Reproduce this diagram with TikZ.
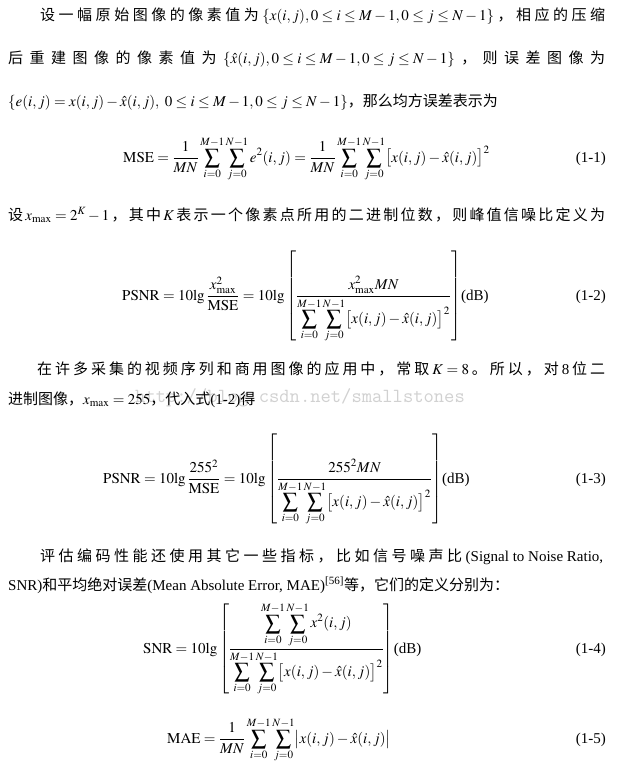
\documentclass[tikz,border=0pt]{standalone}
\usepackage{amsmath}
\usepackage{mathptmx}
\usepackage{fontspec}
\setmainfont{Liberation Serif}
\newfontfamily\cjk{Noto Sans CJK SC}
\ExplSyntaxOn
\NewDocumentCommand\J{m}{\tl_map_inline:nn{#1}{##1\hskip 0pt plus 1fil\relax}}
\ExplSyntaxOff
\newcommand\DSum{\sum_{i=0}^{M-1}\sum_{j=0}^{N-1}}
\newcommand\Diff{x(i,j)-\hat{x}(i,j)}
\newcommand\DFrac[2]{\frac{\displaystyle #1}{\displaystyle #2}}
\tikzset{
  txt/.style={anchor=base west, inner sep=0pt, font=\fontsize{15}{18}\selectfont},
  num/.style={anchor=base east, inner sep=0pt, font=\fontsize{15}{18}\selectfont}
}
\begin{document}
\begin{tikzpicture}[x=1pt,y=-1pt]
\useasboundingbox[fill=white] (0,0) rectangle (623,766);
% watermark
\node[anchor=base west, inner sep=0pt, text=black!18, font=\ttfamily\fontsize{20}{20}\selectfont] (wm) at (135,402) {http://blog.csdn.net/smallstones};
% paragraph 1
\node[txt] (l1) at (40,20) {\hbox to 565pt{{\cjk\J{设一幅原始图像的像素值为}}$\{x(i,j),0\le i\le M-1,0\le j\le N-1\}$\hfil{\cjk\J{，相应的压缩}}\unskip}};
\node[txt] (l2) at (8,63) {\hbox to 597pt{{\cjk\J{后重建图像的像素值为}}$\{\hat{x}(i,j),0\le i\le M-1,0\le j\le N-1\}$\hfil{\cjk\J{，则误差图像为}}\unskip}};
\node[txt] (l3) at (8,106) {$\{e(i,j)=x(i,j)-\hat{x}(i,j),\ 0\le i\le M-1,0\le j\le N-1\}${\cjk ，那么均方误差表示为}};
% eq 1-1
\node[txt] (e1) at (123,162) {$\displaystyle \mathrm{MSE}=\frac{1}{MN}\DSum e^2(i,j)=\frac{1}{MN}\DSum\bigl[\Diff\bigr]^2$};
\node[num] (n1) at (606,162) {(1-1)};
% line 4
\node[txt] (l4) at (8,220) {\hbox to 597pt{{\cjk 设}\hfil$x_{\max}=2^K-1$\hfil{\cjk\J{，其中}}$K$\hfil{\cjk\J{表示一个像素点所用的二进制位数，则峰值信噪比定义为}}\unskip}};
% eq 1-2
\node[txt] (e2) at (122,300) {$\displaystyle \mathrm{PSNR}=10\mathrm{lg}\,\frac{x_{\max}^2}{\mathrm{MSE}}=10\mathrm{lg}\left[\DFrac{x_{\max}^2MN}{\DSum\bigl[\Diff\bigr]^2}\right]$(dB)};
\node[num] (n2) at (606,300) {(1-2)};
% paragraph 2
\node[txt] (l5) at (37,374) {\hbox to 568pt{{\cjk\J{在许多采集的视频序列和商用图像的应用中，常取}}$K=8$\hfil{\cjk\J{。所以，对}}8\hfil{\cjk\J{位二}}\unskip}};
\node[txt] (l6) at (8,404) {{\cjk 进制图像，}$x_{\max}=255${\cjk ，代入式}(1-2){\cjk 得}};
% eq 1-3
\node[txt] (e3) at (103,483) {$\displaystyle \mathrm{PSNR}=10\mathrm{lg}\,\frac{255^2}{\mathrm{MSE}}=10\mathrm{lg}\left[\DFrac{255^2MN}{\DSum\bigl[\Diff\bigr]^2}\right]$(dB)};
\node[num] (n3) at (606,483) {(1-3)};
% paragraph 3
\node[txt] (l7) at (40,561) {\hbox to 563pt{{\cjk\J{评估编码性能还使用其它一些指标，比如信号噪声比}}(Signal to Noise Ratio,}};
\node[txt] (l8) at (8,590) {SNR){\cjk 和平均绝对误差}(Mean Absolute Error, MAE)\textsuperscript{[56]}{\cjk 等，它们的定义分别为：}};
% eq 1-4
\node[txt] (e4) at (143,653) {$\displaystyle \mathrm{SNR}=10\mathrm{lg}\left[\DFrac{\DSum x^2(i,j)}{\DSum\bigl[\Diff\bigr]^2}\right]$(dB)};
\node[num] (n4) at (606,653) {(1-4)};
% eq 1-5
\node[txt] (e5) at (167,743) {$\displaystyle \mathrm{MAE}=\frac{1}{MN}\DSum\bigl|\Diff\bigr|$};
\node[num] (n5) at (606,743) {(1-5)};
\end{tikzpicture}
\end{document}
